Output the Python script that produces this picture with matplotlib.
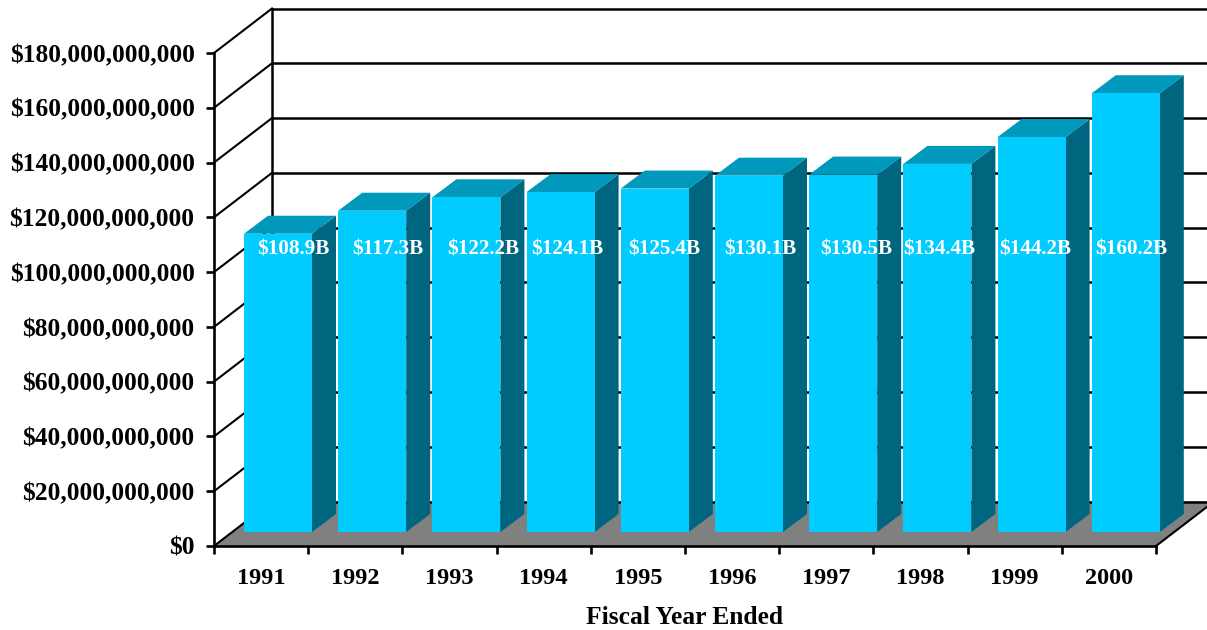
import matplotlib
matplotlib.use("Agg")
import matplotlib.pyplot as plt
from matplotlib.patches import Polygon
from matplotlib.ticker import FuncFormatter

plt.rcParams['font.family'] = ['Liberation Serif', 'DejaVu Serif']
plt.rcParams['font.weight'] = 'bold'

years = ['1991', '1992', '1993', '1994', '1995', '1996', '1997', '1998', '1999', '2000']
revenue = [108.9, 117.3, 122.2, 124.1, 125.4, 130.1, 130.5, 134.4, 144.2, 160.2]  # $ billions
y_ticks = [0, 20, 40, 60, 80, 100, 120, 140, 160, 180]  # $ billions

# label nudges in pixels, the labels don't sit quite centred on the bars
label_shift = [15.5, 16, 17, 7, 9, 11, 13, 2, 4, 5.5]

FRONT = '#00CCFF'
TOP = '#0099BB'
SIDE = '#006680'
FLOOR = '#808080'

W, H = 1207, 630
LEFT, RIGHT, BOTTOM, TOP_Y = 214, 1156, 546, 53

fig = plt.figure(figsize=(W / 100, H / 100), dpi=100)
ax = fig.add_axes([LEFT / W, 1 - BOTTOM / H, (RIGHT - LEFT) / W, (BOTTOM - TOP_Y) / H])
ax.set_xlim(0, len(years))
ax.set_ylim(0, 180)
ax.patch.set_visible(False)

# data units per pixel
ux = len(years) / (RIGHT - LEFT)
uy = 180 / (BOTTOM - TOP_Y)

wall_dx, wall_dy = 58 * ux, 44.5 * uy
bar_dx, bar_dy = 24 * ux, 18 * uy
base_x, base_y = 30 * ux, 14 * uy
bar_w = 68 * ux
n = len(years)

# floor
ax.add_patch(Polygon([(0, 0), (n, 0), (n + wall_dx, wall_dy), (wall_dx, wall_dy)],
                     closed=True, fc=FLOOR, ec='none', clip_on=False, zorder=1))

# back wall gridlines and the diagonals running back from the y axis
for t in y_ticks:
    ax.plot([wall_dx, n + wall_dx], [t + wall_dy, t + wall_dy], color='black', lw=1.8,
            clip_on=False, zorder=2, solid_capstyle='butt')
    ax.plot([0, wall_dx], [t, t + wall_dy], color='black', lw=1.5, clip_on=False, zorder=2)
ax.plot([wall_dx, wall_dx], [wall_dy, 180 + wall_dy], color='black', lw=1.8, clip_on=False, zorder=2)
ax.plot([n, n + wall_dx], [0, wall_dy], color='black', lw=1.5, clip_on=False, zorder=2)

# 3d bars, three faces each
for i, v in enumerate(revenue):
    x0 = i + base_x
    x1 = x0 + bar_w
    y0 = base_y
    y1 = base_y + v
    ax.add_patch(Polygon([(x1, y0), (x1 + bar_dx, y0 + bar_dy), (x1 + bar_dx, y1 + bar_dy), (x1, y1)],
                         closed=True, fc=SIDE, ec='none', clip_on=False, zorder=3))
    ax.add_patch(Polygon([(x0, y1), (x1, y1), (x1 + bar_dx, y1 + bar_dy), (x0 + bar_dx, y1 + bar_dy)],
                         closed=True, fc=TOP, ec='none', clip_on=False, zorder=3))
    ax.add_patch(Polygon([(x0, y0), (x1, y0), (x1, y1), (x0, y1)],
                         closed=True, fc=FRONT, ec='none', clip_on=False, zorder=3))
    ax.annotate('$%.1fB' % v, xy=(x0 + bar_w / 2, 108.1), xytext=(label_shift[i] * 0.72, 0),
                textcoords='offset points', ha='center', va='center', color='white',
                fontsize=15.2, fontweight='bold', zorder=4, annotation_clip=False)

for s in ['top', 'right']:
    ax.spines[s].set_visible(False)
for s in ['left', 'bottom']:
    ax.spines[s].set_linewidth(1.9)
    ax.spines[s].set_zorder(5)

ax.set_yticks(y_ticks)
ax.yaxis.set_major_formatter(FuncFormatter(lambda v, pos: '${:,.0f}'.format(v * 1e9)))
ax.tick_params(axis='y', direction='out', length=6, width=1.9, pad=8, labelsize=18.4)

ax.set_xticks(range(n + 1))
ax.set_xticklabels([])
ax.set_xticks([i + 0.5 for i in range(n)], minor=True)
ax.set_xticklabels(years, minor=True)
ax.tick_params(axis='x', which='major', direction='out', length=6, width=1.9)
ax.tick_params(axis='x', which='minor', length=0, pad=16, labelsize=17.5)

ax.set_xlabel('Fiscal Year Ended', fontsize=18.4, fontweight='bold', labelpad=12)

fig.savefig('out.png', dpi=100)
